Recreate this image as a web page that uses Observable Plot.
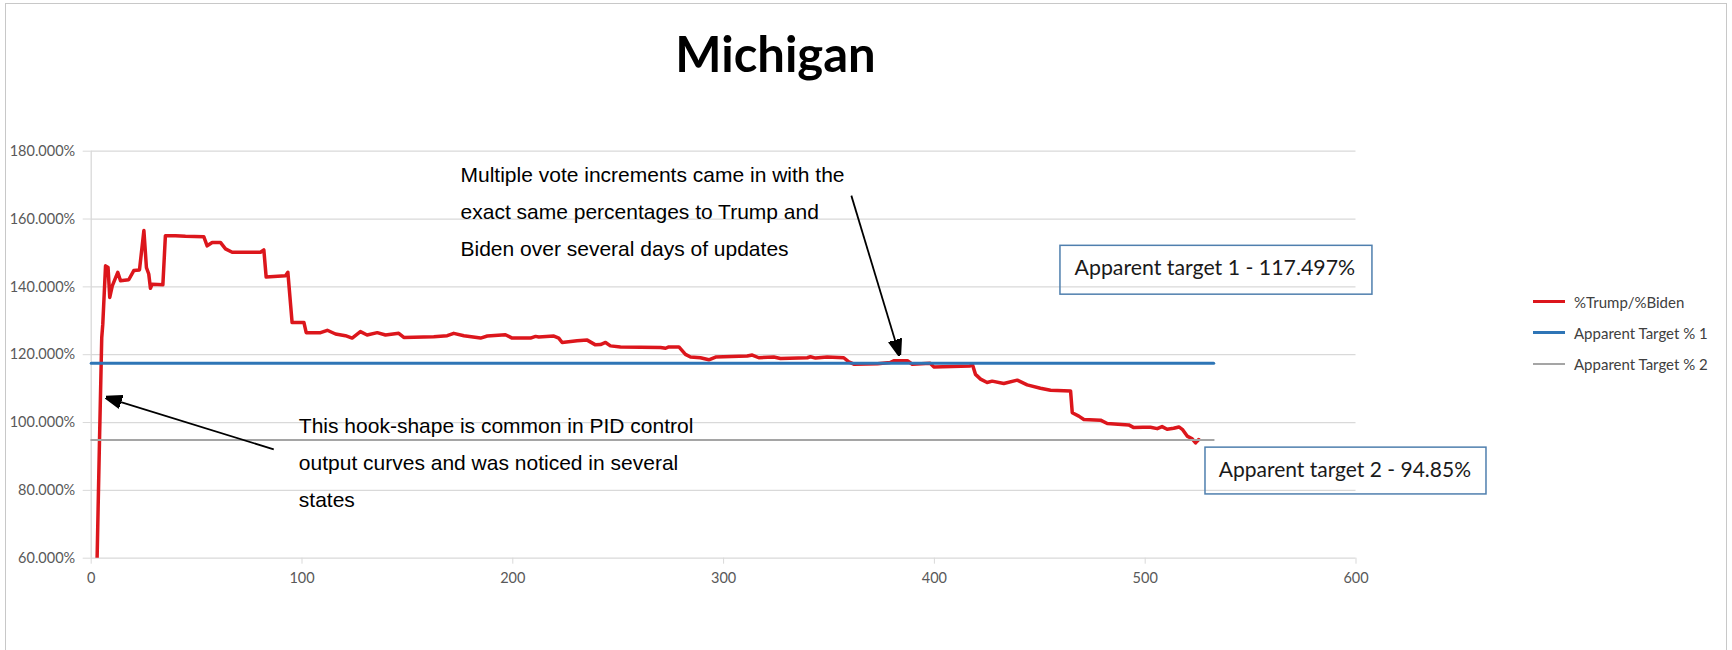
<!DOCTYPE html>
<html><head><meta charset="utf-8">
<script src="https://cdn.jsdelivr.net/npm/d3@7"></script>
<script src="https://cdn.jsdelivr.net/npm/@observablehq/plot@0.6"></script>
<style>
html,body{margin:0;padding:0;background:#fff;overflow:hidden;}
#wrap{position:relative;width:1732px;height:650px;overflow:hidden;font-family:Lato,sans-serif;background:#fff;}
#frame{position:absolute;left:5px;top:3px;width:1720px;height:700px;border:1px solid #c8c8c8;}
#title{position:absolute;left:0;width:1551px;top:23px;text-align:center;font-family:Lato,sans-serif;font-weight:bold;font-size:49px;line-height:60px;color:#000;}
#chart{position:absolute;left:0;top:100px;}
#legend{position:absolute;left:1533px;top:286px;font-family:Lato,sans-serif;font-size:15px;color:#404040;}
#legend .row{display:flex;align-items:center;height:31px;}
#legend .sw{width:32px;height:3px;margin-right:9px;}
</style>
</head><body>
<div id="wrap">
  <div id="frame"></div>
  <div id="title">Michigan</div>
  <div id="chart"></div>
  <div id="legend"></div>
</div>
<script>
// ---- data ----
const xValues = [2.8,3.9,5.0,5.5,6.8,8.0,8.8,10.0,12.6,13.9,17.8,20.2,22.9,25.0,26.2,27.3,28.1,28.9,34.0,35.2,40.0,44.7,53.4,55.0,57.4,61.3,63.7,66.9,80.3,81.9,83.0,92.2,93.3,95.3,100.9,102.0,108.8,112.0,115.9,120.6,123.8,127.7,130.9,135.7,139.6,145.9,148.3,162.5,168.9,172.0,176.8,184.7,187.9,196.5,199.7,208.4,210.8,212.3,219.5,221.8,223.4,230.5,235.3,239.2,241.6,244.0,246.3,251.1,270.1,272.5,274.0,278.8,281.9,284.3,289.0,293.0,296.2,311.2,313.6,316.7,323.8,327.0,339.7,341.2,343.6,349.1,357.0,359.4,361.8,373.0,379.0,380.7,387.2,389.5,398.0,399.7,417.0,418.0,419.5,421.9,425.0,427.4,432.9,439.3,444.0,450.3,455.1,464.6,465.4,468.5,470.9,478.8,482.0,492.2,494.6,499.0,502.5,505.7,508.0,510.4,513.5,516.0,517.6,519.9,522.3,523.9,525.4];
const trumpOverBiden = [60,93.6,125,129,146.2,145.7,136.9,140.3,144.3,141.8,142.1,144.8,145.0,156.6,145.7,143.8,139.6,140.8,140.6,155.1,155.1,154.9,154.8,152.1,153.1,153.1,151.2,150.2,150.2,150.9,142.9,143.3,144.3,129.5,129.5,126.5,126.5,127.2,126.1,125.6,124.9,126.8,125.8,126.5,125.8,126.3,125.1,125.3,125.6,126.3,125.6,124.9,125.5,125.9,124.9,124.9,125.4,125.2,125.5,124.9,123.6,124.1,124.3,122.9,123.0,123.6,122.6,122.3,122.1,121.9,122.3,122.3,120.1,119.3,119.1,118.5,119.3,119.6,119.9,119.1,119.3,118.9,119.1,119.4,119.0,119.3,119.1,117.9,117.2,117.3,117.7,118.2,118.2,117.2,117.5,116.4,116.7,117.2,114.2,112.8,111.8,112.2,111.5,112.5,111.1,110.1,109.5,109.3,102.9,101.9,100.9,100.7,99.7,99.3,98.5,98.6,98.6,98.2,98.8,98.0,98.3,98.7,98.0,96.0,95.2,94.0,95.0];
const targetX = [0, 532.5];
const target1 = 117.497;
const target2 = 94.85;
const seriesNames = ["%Trump/%Biden", "Apparent Target % 1", "Apparent Target % 2"];
const xTicks = [0,100,200,300,400,500,600];
const yTicks = [60,80,100,120,140,160,180];
const titleText = "Michigan";
const noteTop = ["Multiple vote increments came in with the", "exact same percentages to Trump and", "Biden over several days of updates"];
const noteLeft = ["This hook-shape is common in PID control", "output curves and was noticed in several", "states"];
const box1Label = "Apparent target 1 - 117.497%";
const box2Label = "Apparent target 2 - 94.85%";

const colors = ["#dc161c", "#2e75b6", "#a5a5a5"];

// ---- tables ----
const redRows = xValues.map((x, i) => ({x, y: trumpOverBiden[i]}));
const t1Rows = targetX.map(x => ({x, y: target1}));
const t2Rows = targetX.map(x => ({x, y: target2}));

document.getElementById("title").textContent = titleText;

function filledArrow(color, context) {
  const m = d3.create("svg:marker")
    .attr("viewBox", "-5 -5 10 10")
    .attr("markerWidth", 9)
    .attr("markerHeight", 9)
    .attr("refX", 4)
    .attr("orient", "auto")
    .attr("fill", "#000");
  m.append("path").attr("d", "M-5,-3.6L5,0L-5,3.6Z");
  return m.node();
}

const noteFont = "Liberation Sans, Arial, sans-serif";

function build(marker) {
  return Plot.plot({
    width: 1732, height: 550,
    marginLeft: 90.7, marginRight: 376.5, marginTop: 50.7, marginBottom: 92.3,
    style: {fontFamily: "Lato, sans-serif", fontSize: "14.5px", background: "transparent", overflow: "visible", color: "#595959"},
    x: {domain: [0, 600], label: null},
    y: {domain: [60, 180], label: null},
    marks: [
      Plot.gridY(yTicks, {stroke: "#d9d9d9", strokeOpacity: 1, strokeWidth: 1.3}),
      Plot.ruleX([0], {stroke: "#d9d9d9", strokeWidth: 1.3}),
      Plot.axisY(yTicks, {tickSize: 8, tickPadding: 8, stroke: "#d9d9d9", fill: "#595959", tickFormat: d => d.toFixed(3) + "%", fontSize: 14.5}),
      Plot.axisX(xTicks, {tickSize: 6, tickPadding: 9, stroke: "#d9d9d9", fill: "#595959", fontSize: 14.5}),
      Plot.line(redRows, {x: "x", y: "y", stroke: colors[0], strokeWidth: 3.5, clip: true}),
      Plot.line(t1Rows, {x: "x", y: "y", stroke: colors[1], strokeWidth: 3}),
      Plot.line(t2Rows, {x: "x", y: "y", stroke: colors[2], strokeWidth: 2}),
      Plot.text([noteTop.join("\n")], {x: 175.2, y: 163.5, textAnchor: "start", lineAnchor: "middle", lineHeight: 1.78, fontSize: 21, fontFamily: noteFont, fill: "#000"}),
      Plot.text([noteLeft.join("\n")], {x: 98.5, y: 89.6, textAnchor: "start", lineAnchor: "middle", lineHeight: 1.76, fontSize: 21, fontFamily: noteFont, fill: "#000"}),
      Plot.link([{x1: 86.6, y1: 92.1, x2: 7.6, y2: 107.3}], {x1: "x1", y1: "y1", x2: "x2", y2: "y2", stroke: "#000", strokeWidth: 1.8, markerEnd: marker}),
      Plot.link([{x1: 360.6, y1: 166.9, x2: 383.3, y2: 120.2}], {x1: "x1", y1: "y1", x2: "x2", y2: "y2", stroke: "#000", strokeWidth: 1.8, markerEnd: marker}),
      Plot.rect([{x1: 459.8, x2: 607.8, y1: 137.7, y2: 152.1}], {x1: "x1", x2: "x2", y1: "y1", y2: "y2", fill: "none", stroke: "#4f7fae", strokeWidth: 1.5}),
      Plot.rect([{x1: 528.6, x2: 661.9, y1: 78.8, y2: 92.6}], {x1: "x1", x2: "x2", y1: "y1", y2: "y2", fill: "none", stroke: "#4f7fae", strokeWidth: 1.5}),
      Plot.text([box1Label], {x: 466.5, y: 145.4, textAnchor: "start", fontSize: 21.3, fontFamily: "Lato, sans-serif", fill: "#1a1a1a"}),
      Plot.text([box2Label], {x: 534.9, y: 86.0, textAnchor: "start", fontSize: 21, fontFamily: "Lato, sans-serif", fill: "#1a1a1a"})
    ]
  });
}

let svg;
try { svg = build(filledArrow); } catch (e) { svg = build("arrow"); }
document.getElementById("chart").appendChild(svg);

// legend
const lg = document.getElementById("legend");
seriesNames.forEach((n, i) => {
  const r = document.createElement("div"); r.className = "row";
  const s = document.createElement("div"); s.className = "sw"; s.style.background = colors[i];
  if (i === 2) s.style.height = "2px";
  const t = document.createElement("span"); t.textContent = n;
  r.appendChild(s); r.appendChild(t); lg.appendChild(r);
});
</script>
</body></html>
